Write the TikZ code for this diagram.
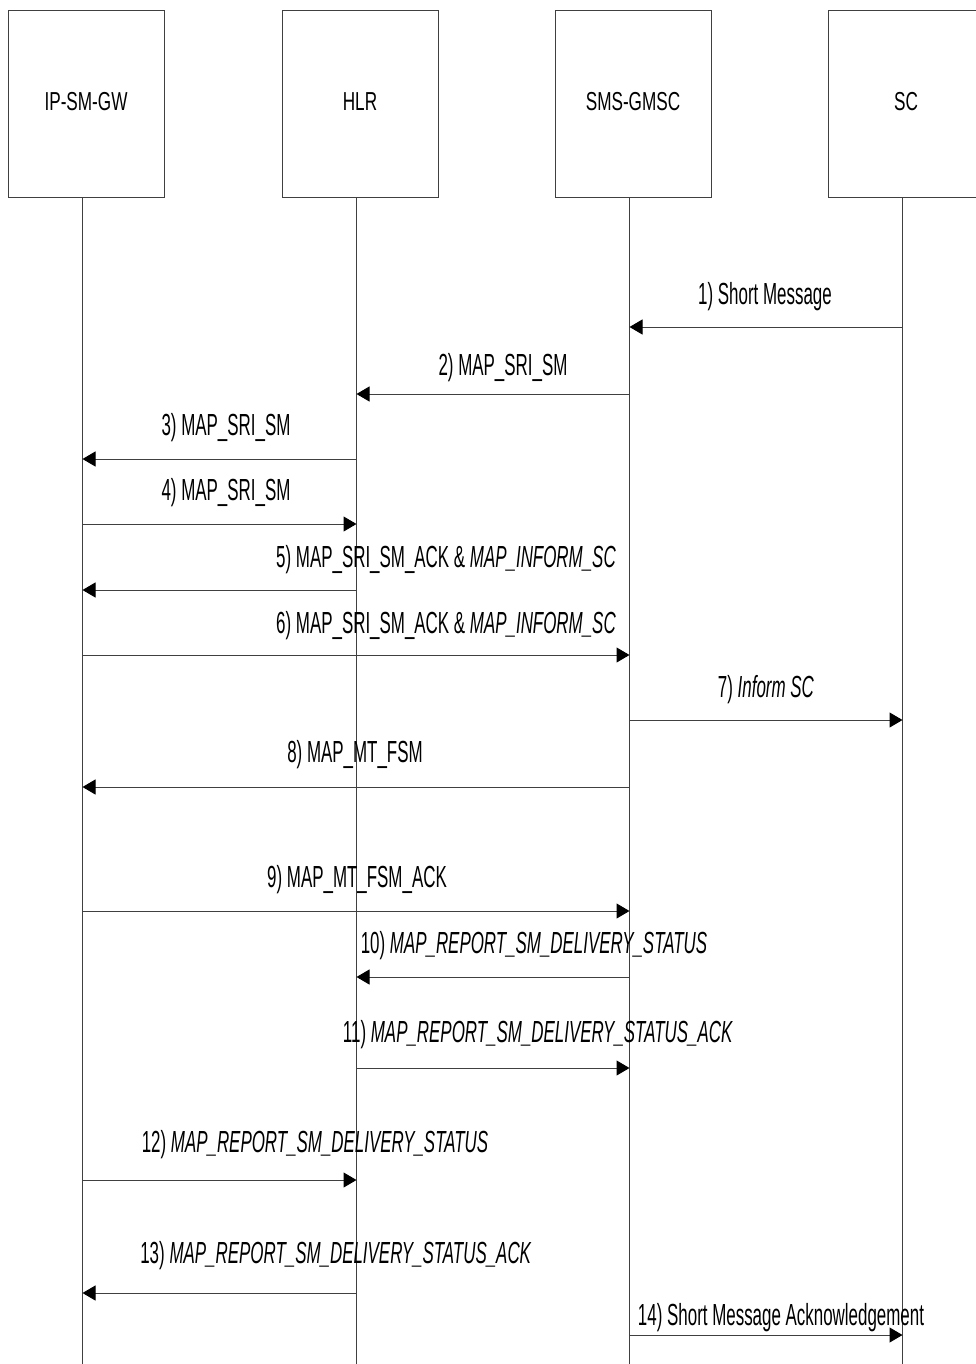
\documentclass[tikz,border=0pt]{standalone}
\usepackage{fontspec}
\setmainfont{Liberation Sans}
\newfontfamily\boxfont{Liberation Sans}[FakeStretch=0.66]
\newfontfamily\lblfont{Liberation Sans}[FakeStretch=0.555]
\usetikzlibrary{arrows.meta}
\definecolor{linegray}{HTML}{404040}
\tikzset{
  entity/.style={draw=linegray, line width=1pt, minimum width=156pt, minimum height=187pt, inner sep=0pt, anchor=north west},
  entitytext/.style={font=\boxfont\fontsize{26}{30}\selectfont, anchor=base, inner sep=0pt},
  lifeline/.style={draw=linegray, line width=1pt},
  msg/.style={draw=linegray, line width=1pt, -{Triangle[length=13pt,width=15pt,color=black]}},
  lbl/.style={font=\lblfont\fontsize{30.5}{34}\selectfont, anchor=base, inner sep=0pt}
}
\begin{document}
\begin{tikzpicture}[x=1pt,y=-1pt]
\useasboundingbox (0,0) rectangle (975,1364);
% entity boxes
\node[entity] (ipsm) at (8,10) {};
\node[entity] (hlr) at (282,10) {};
\node[entity] (gmsc) at (555,10) {};
\node[entity] (sc) at (828,10) {};
\node[entitytext] (tipsm) at (86,111) {IP-SM-GW};
\node[entitytext] (thlr) at (360,111) {HLR};
\node[entitytext] (tgmsc) at (633,111) {SMS-GMSC};
\node[entitytext] (tsc) at (906,111) {SC};
% lifelines
\coordinate (L1) at ([xshift=-4pt]ipsm.south);
\coordinate (L2) at ([xshift=-4pt]hlr.south);
\coordinate (L3) at ([xshift=-4pt]gmsc.south);
\coordinate (L4) at ([xshift=-4pt]sc.south);
\coordinate (bot) at (0,1364);
\draw[lifeline] (L1) -- (L1 |- bot);
\draw[lifeline] (L2) -- (L2 |- bot);
\draw[lifeline] (L3) -- (L3 |- bot);
\draw[lifeline] (L4) -- (L4 |- bot);
% message rows
\coordinate (r1) at (0,327);
\coordinate (r2) at (0,394);
\coordinate (r3) at (0,459);
\coordinate (r4) at (0,524);
\coordinate (r5) at (0,590);
\coordinate (r6) at (0,655);
\coordinate (r7) at (0,720);
\coordinate (r8) at (0,787);
\coordinate (r9) at (0,911);
\coordinate (r10) at (0,977);
\coordinate (r11) at (0,1068);
\coordinate (r12) at (0,1180);
\coordinate (r13) at (0,1293);
\coordinate (r14) at (0,1335);
\draw[msg] (L4 |- r1) -- (L3 |- r1);
\draw[msg] (L3 |- r2) -- (L2 |- r2);
\draw[msg] (L2 |- r3) -- (L1 |- r3);
\draw[msg] (L1 |- r4) -- (L2 |- r4);
\draw[msg] (L2 |- r5) -- (L1 |- r5);
\draw[msg] (L1 |- r6) -- (L3 |- r6);
\draw[msg] (L3 |- r7) -- (L4 |- r7);
\draw[msg] (L3 |- r8) -- (L1 |- r8);
\draw[msg] (L1 |- r9) -- (L3 |- r9);
\draw[msg] (L3 |- r10) -- (L2 |- r10);
\draw[msg] (L2 |- r11) -- (L3 |- r11);
\draw[msg] (L1 |- r12) -- (L2 |- r12);
\draw[msg] (L2 |- r13) -- (L1 |- r13);
\draw[msg] (L3 |- r14) -- (L4 |- r14);
% labels
\node[lbl] (m1) at (765,304) {1) Short Message};
\node[lbl] (m2) at (503,375) {2) MAP\_SRI\_SM};
\node[lbl] (m3) at (226,435) {3) MAP\_SRI\_SM};
\node[lbl] (m4) at (226,500) {4) MAP\_SRI\_SM};
\node[lbl] (m5) at (446,567) {5) MAP\_SRI\_SM\_ACK \& \textit{MAP\_INFORM\_SC}};
\node[lbl] (m6) at (446,633) {6) MAP\_SRI\_SM\_ACK \& \textit{MAP\_INFORM\_SC}};
\node[lbl] (m7) at (766,697) {7) \textit{Inform SC}};
\node[lbl] (m8) at (355,762) {8) MAP\_MT\_FSM};
\node[lbl] (m9) at (357,887) {9) MAP\_MT\_FSM\_ACK};
\node[lbl] (m10) at (534,953) {10) \textit{MAP\_REPORT\_SM\_DELIVERY\_STATUS}};
\node[lbl] (m11) at (538,1042) {11) \textit{MAP\_REPORT\_SM\_DELIVERY\_STATUS\_ACK}};
\node[lbl] (m12) at (315,1152) {12) \textit{MAP\_REPORT\_SM\_DELIVERY\_STATUS}};
\node[lbl] (m13) at (336,1263) {13) \textit{MAP\_REPORT\_SM\_DELIVERY\_STATUS\_ACK}};
\node[lbl] (m14) at (781,1325) {14) Short Message Acknowledgement};
\end{tikzpicture}
\end{document}
